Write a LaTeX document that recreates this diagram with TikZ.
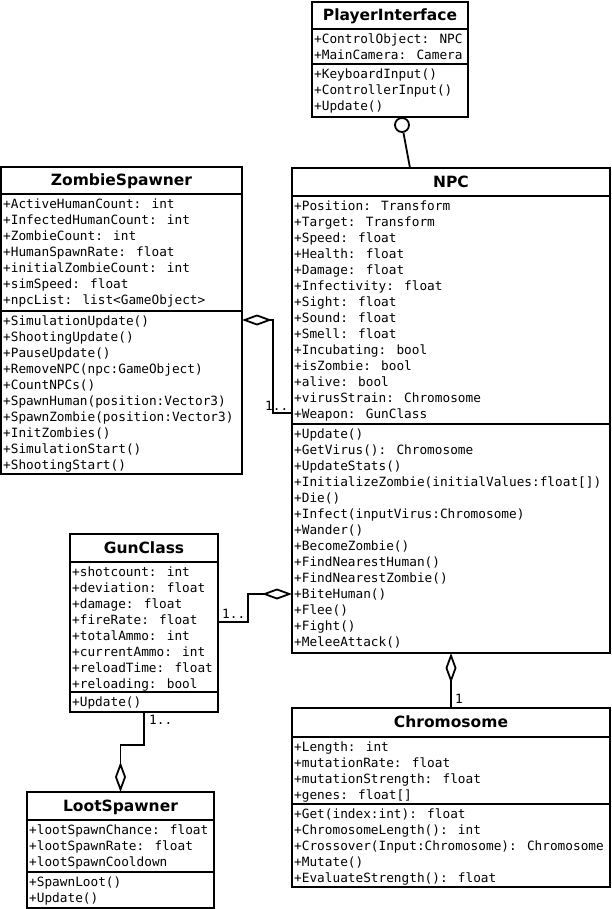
\documentclass[tikz,border=0pt]{standalone}
\usepackage{fontspec}
\setmainfont{DejaVu Sans}
\newfontfamily\umlmono{DejaVu Sans Mono}
\usetikzlibrary{arrows.meta}

\tikzset{
  classbox/.style={draw, line width=1.8pt, inner sep=0pt, outer sep=0pt, anchor=north west},
  classname/.style={font=\bfseries\fontsize{15.5}{18}\selectfont, anchor=base, inner sep=0pt},
  members/.style={font=\umlmono\fontsize{12.75}{16}\selectfont, align=left, anchor=north west, inner sep=0pt},
  mult/.style={font=\umlmono\fontsize{12.75}{16}\selectfont, anchor=base west, inner sep=0pt},
  aggr/.style={line width=1.8pt, -{Diamond[open, length=30pt, width=11pt]}},
  sepline/.style={line width=1.8pt}
}

\begin{document}
\begin{tikzpicture}[x=1pt,y=-1pt]
    \useasboundingbox (0,0) rectangle (612,909);
    % PlayerInterface
    \node[classbox, minimum width=156, minimum height=115] (pi) at (312,2) {};
    \draw[sepline] (312,29) -- (468,29);
    \draw[sepline] (312,64) -- (468,64);
    \node[classname] (pititle) at (390,21) {PlayerInterface};
    \node[members] (piattr) at (314,33.5) {+ControlObject: NPC\\+MainCamera: Camera};
    \node[members] (piops) at (314,68.5) {+KeyboardInput()\\+ControllerInput()\\+Update()};
    % ZombieSpawner
    \node[classbox, minimum width=241, minimum height=307] (zs) at (1,167) {};
    \draw[sepline] (1,194) -- (242,194);
    \draw[sepline] (1,311) -- (242,311);
    \node[classname] (zstitle) at (121.5,185.5) {ZombieSpawner};
    \node[members] (zsattr) at (3,198.5) {+ActiveHumanCount: int\\+InfectedHumanCount: int\\+ZombieCount: int\\+HumanSpawnRate: float\\+initialZombieCount: int\\+simSpeed: float\\+npcList: list<GameObject>};
    \node[members] (zsops) at (3,315.5) {+SimulationUpdate()\\+ShootingUpdate()\\+PauseUpdate()\\+RemoveNPC(npc:GameObject)\\+CountNPCs()\\+SpawnHuman(position:Vector3)\\+SpawnZombie(position:Vector3)\\+InitZombies()\\+SimulationStart()\\+ShootingStart()};
    % NPC
    \node[classbox, minimum width=318, minimum height=485] (npc) at (292,168) {};
    \draw[sepline] (292,196) -- (610,196);
    \draw[sepline] (292,424) -- (610,424);
    \node[classname] (npctitle) at (451,188) {NPC};
    \node[members] (npcattr) at (294,200.5) {+Position: Transform\\+Target: Transform\\+Speed: float\\+Health: float\\+Damage: float\\+Infectivity: float\\+Sight: float\\+Sound: float\\+Smell: float\\+Incubating: bool\\+isZombie: bool\\+alive: bool\\+virusStrain: Chromosome\\+Weapon: GunClass};
    \node[members] (npcops) at (294,428.5) {+Update()\\+GetVirus(): Chromosome\\+UpdateStats()\\+InitializeZombie(initialValues:float[])\\+Die()\\+Infect(inputVirus:Chromosome)\\+Wander()\\+BecomeZombie()\\+FindNearestHuman()\\+FindNearestZombie()\\+BiteHuman()\\+Flee()\\+Fight()\\+MeleeAttack()};
    % GunClass
    \node[classbox, minimum width=148, minimum height=178] (gun) at (70,534) {};
    \draw[sepline] (70,562) -- (218,562);
    \draw[sepline] (70,692) -- (218,692);
    \node[classname] (guntitle) at (144,553) {GunClass};
    \node[members] (gunattr) at (72,566.5) {+shotcount: int\\+deviation: float\\+damage: float\\+fireRate: float\\+totalAmmo: int\\+currentAmmo: int\\+reloadTime: float\\+reloading: bool};
    \node[members] (gunops) at (72,696.5) {+Update()};
    % LootSpawner
    \node[classbox, minimum width=187, minimum height=116] (loot) at (27,792) {};
    \draw[sepline] (27,820) -- (214,820);
    \draw[sepline] (27,872) -- (214,872);
    \node[classname] (loottitle) at (120.5,811) {LootSpawner};
    \node[members] (lootattr) at (29,824.5) {+lootSpawnChance: float\\+lootSpawnRate: float\\+lootSpawnCooldown};
    \node[members] (lootops) at (29,876.5) {+SpawnLoot()\\+Update()};
    % Chromosome
    \node[classbox, minimum width=318, minimum height=179] (chrom) at (292,708) {};
    \draw[sepline] (292,737) -- (610,737);
    \draw[sepline] (292,804) -- (610,804);
    \node[classname] (chromtitle) at (451,727.5) {Chromosome};
    \node[members] (chromattr) at (294,741.5) {+Length: int\\+mutationRate: float\\+mutationStrength: float\\+genes: float[]};
    \node[members] (chromops) at (294,808.5) {+Get(index:int): float\\+ChromosomeLength(): int\\+Crossover(Input:Chromosome): Chromosome\\+Mutate()\\+EvaluateStrength(): float};
    % connectors
    \node[draw, circle, line width=1.8pt, fill=white, minimum size=14, inner sep=0pt] (ball) at (402,125) {};
    \coordinate (npctop) at (410,168);
    \draw[line width=1.8pt] (ball) -- (npctop);
    \draw[aggr] (npc.west |- 0,413) -- (273,413) -- (273,320) -- (zs.east |- 0,320);
    \node[mult] (zsmult) at (265,410) {1..};
    \draw[aggr] (gun.east |- 0,622) -- (248,622) -- (248,594) -- (npc.west |- 0,594);
    \node[mult] (gunmult) at (222,618) {1..};
    \draw[aggr] (chrom.north) -- (npc.south);
    \node[mult] (chrommult) at (455,703) {1};
    \draw[aggr] (gun.south) -- (gun.south |- 0,745) -| (loot.north);
    \node[mult] (lootmult) at (149,724) {1..};
\end{tikzpicture}
\end{document}
